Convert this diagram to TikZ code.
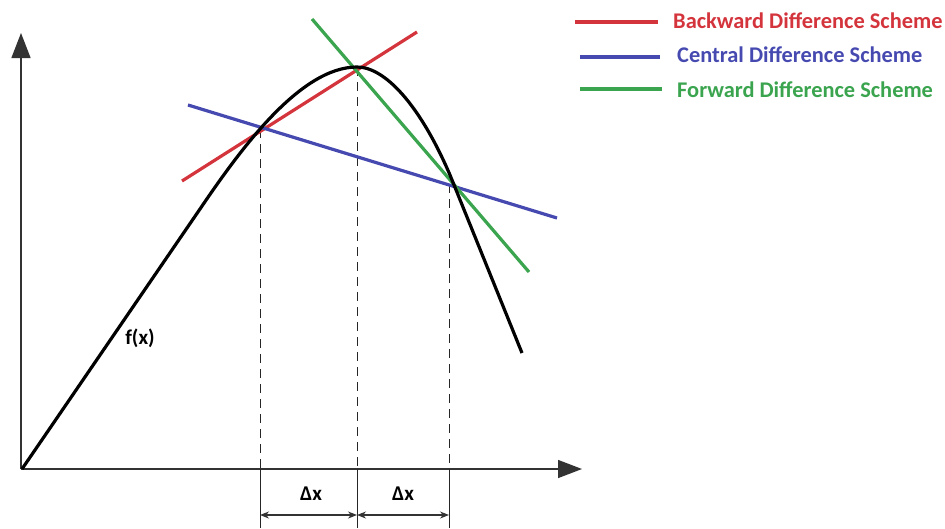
\documentclass[tikz,border=0pt]{standalone}
\usepackage{fontspec}
\setmainfont{Carlito}
\usetikzlibrary{arrows.meta}
\definecolor{bwd}{RGB}{212,52,60}
\definecolor{cen}{RGB}{70,74,176}
\definecolor{fwd}{RGB}{58,164,78}
\tikzset{
  axisline/.style={line width=1.4pt, black!80},
  curveline/.style={line width=3.2pt, black, line join=round},
  tanline/.style={line width=3.2pt},
  guide/.style={line width=1pt, black!85, dash pattern=on 9pt off 6pt},
  extline/.style={line width=1pt, black!85},
  dimline/.style={line width=1.2pt, black!80, {Stealth[length=9pt,width=7pt]}-{Stealth[length=9pt,width=7pt]}},
  lbl/.style={font=\bfseries\fontsize{21}{23}\selectfont, inner sep=0pt},
  legtxt/.style={font=\bfseries\fontsize{22.4}{24}\selectfont, inner sep=0pt, anchor=west}
}
\begin{document}
\begin{tikzpicture}[x=1pt,y=-1pt]
\useasboundingbox (0,0) rectangle (945,528);
% axes
\coordinate (O) at (21,469);
\coordinate (Ytip) at (21,33);
\coordinate (Xtip) at (582,469);
\draw[axisline, -{Triangle[length=25pt,width=19pt]}] (O) -- (Ytip);
\draw[axisline, -{Triangle[length=24pt,width=18pt]}] (O) -- (Xtip);
% key points
\coordinate (A) at (260,129);
\coordinate (B) at (357,67);
\coordinate (C) at (449,184);
% dashed guides
\coordinate (Ab) at (260,469);
\coordinate (Bb) at (357,469);
\coordinate (Cb) at (449,469);
\coordinate (Ae) at (260,528);
\coordinate (Be) at (357,528);
\coordinate (Ce) at (449,528);
\draw[guide] (A) -- (Ab);
\draw[guide] (B) -- (Bb);
\draw[guide] (C) -- (Cb);
\draw[extline] (Ab) -- (Ae);
\draw[extline] (Bb) -- (Be);
\draw[extline] (Cb) -- (Ce);
% delta x arrows
\coordinate (D1) at (260,515);
\coordinate (D2) at (357,515);
\coordinate (D3) at (449,515);
\draw[dimline] (D1) -- (D2);
\draw[dimline] (D2) -- (D3);
\node[lbl] (dx1) at (311,494) {Δx};
\node[lbl] (dx2) at (403,494) {Δx};
% tangent lines
\coordinate (R1) at (182,181);
\coordinate (R2) at (417,32);
\coordinate (L1) at (188,105);
\coordinate (L2) at (557,218);
\coordinate (G1) at (312,19);
\coordinate (G2) at (529,272);
\draw[tanline, bwd] (R1) -- (R2);
\draw[tanline, cen] (L1) -- (L2);
\draw[tanline, fwd] (G1) -- (G2);
% curve
\coordinate (P0) at (22,469);
\coordinate (P1) at (200,209);
\coordinate (P2) at (450,175);
\coordinate (P3) at (522,353);
\draw[curveline] (P0) -- (P1) .. controls (240,150) and (300,67) .. (B)
  .. controls (385,67) and (420,105) .. (P2) -- (P3);
\node[lbl] (fx) at (140,338) {f(x)};
% legend
\coordinate (lr1) at (575,22);
\coordinate (lr2) at (658,22);
\coordinate (lb1) at (580,57);
\coordinate (lb2) at (660,57);
\coordinate (lg1) at (580,89);
\coordinate (lg2) at (662,89);
\draw[tanline, bwd] (lr1) -- (lr2);
\draw[tanline, cen] (lb1) -- (lb2);
\draw[tanline, fwd] (lg1) -- (lg2);
\node[legtxt, text=bwd] (tb) at (673,21) {Backward Difference Scheme};
\node[legtxt, text=cen] (tc) at (677,55) {Central Difference Scheme};
\node[legtxt, text=fwd] (tf) at (677,90) {Forward Difference Scheme};
\end{tikzpicture}
\end{document}
